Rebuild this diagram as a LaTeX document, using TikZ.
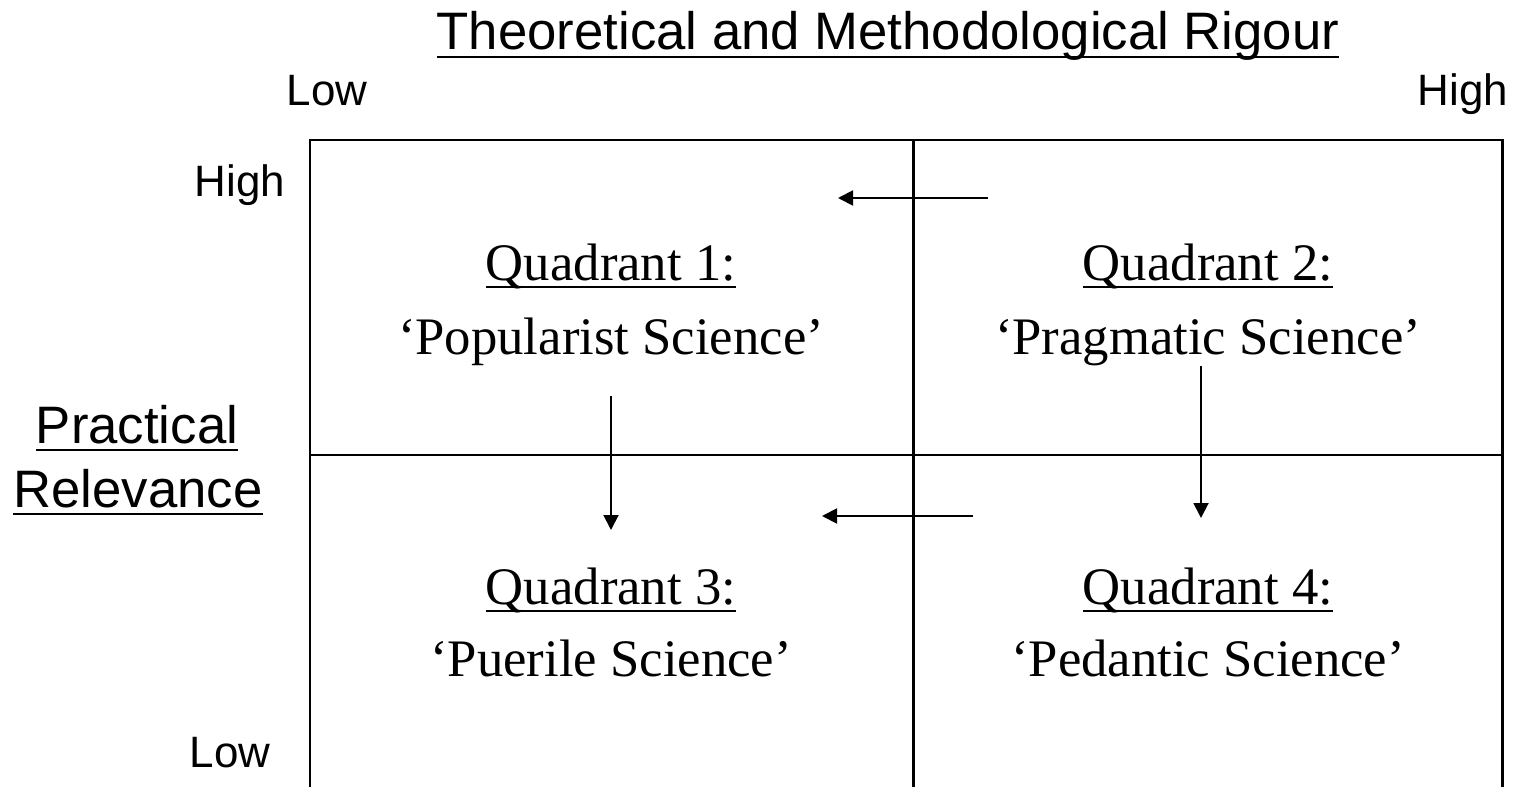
\documentclass[tikz,border=0pt]{standalone}
\usepackage{fontspec}
\setmainfont{Liberation Serif}
\setsansfont{Liberation Sans}
\usetikzlibrary{arrows.meta,positioning}
\newcommand{\ulined}[1]{\setbox0\hbox{#1}\rlap{\rule[-4.8pt]{\wd0}{1.6pt}}\box0}

\begin{document}
\begin{tikzpicture}[
    x=0.02cm, y=-0.02cm,
    >={Triangle[length=0.3cm,width=0.3cm]},
    gridline/.style={line width=1.7pt},
    movearrow/.style={->, line width=1.1pt},
    axistitle/.style={font=\sffamily\fontsize{30}{36}\selectfont, inner sep=0pt, anchor=base},
    axislevel/.style={font=\sffamily\fontsize{25}{30}\selectfont, inner sep=0pt, anchor=base},
    quadtitle/.style={font=\fontsize{30}{36}\selectfont, inner sep=0pt, anchor=base},
    quadname/.style={font=\fontsize{30}{36}\selectfont, inner sep=0pt, anchor=base},
  ]
  \useasboundingbox (0,0) rectangle (1517,787);

  % Grid
  \coordinate (tl) at (310,140);
  \coordinate (tr) at (1502,140);
  \coordinate (bl) at (310,787);
  \coordinate (br) at (1502,787);
  \draw[gridline] (bl) -- (tl) -- (tr) -- (br);
  \draw[gridline] (913,140) -- (913,787);
  \draw[gridline] (310,455) -- (1502,455);

  % Axis labels
  \node[axistitle] (rigour) at (888,50) {\ulined{Theoretical and Methodological Rigour}};
  \node[axislevel] (rlow)  at (327,106) {Low};
  \node[axislevel] (rhigh) at (1463,106) {High};
  \node[axistitle] (pract) at (137,443) {\ulined{Practical}};
  \node[axistitle] (relev) at (138,507) {\ulined{Relevance}};
  \node[axislevel] (phigh) at (240,196) {High};
  \node[axislevel] (plow)  at (230,767) {Low};

  % Quadrants
  \node[quadtitle] (q1) at (611,280) {\ulined{Quadrant 1:}};
  \node[quadname]  (n1) at (611,354) {`Popularist Science'};
  \node[quadtitle] (q2) at (1208,280) {\ulined{Quadrant 2:}};
  \node[quadname]  (n2) at (1208,354) {`Pragmatic Science'};
  \node[quadtitle] (q3) at (611,604) {\ulined{Quadrant 3:}};
  \node[quadname]  (n3) at (611,676) {`Puerile Science'};
  \node[quadtitle] (q4) at (1208,604) {\ulined{Quadrant 4:}};
  \node[quadname]  (n4) at (1208,676) {`Pedantic Science'};

  % Moves
  \coordinate (a1s) at (988,198);  \coordinate (a1e) at (838,198);
  \coordinate (a2s) at (973,516);  \coordinate (a2e) at (822,516);
  \coordinate (a3s) at (611,396);  \coordinate (a3e) at (611,530);
  \coordinate (a4s) at (1201,366); \coordinate (a4e) at (1201,518);
  \draw[movearrow] (a1s) -- (a1e);
  \draw[movearrow] (a2s) -- (a2e);
  \draw[movearrow] (a3s) -- (a3e);
  \draw[movearrow] (a4s) -- (a4e);

\end{tikzpicture}
\end{document}
